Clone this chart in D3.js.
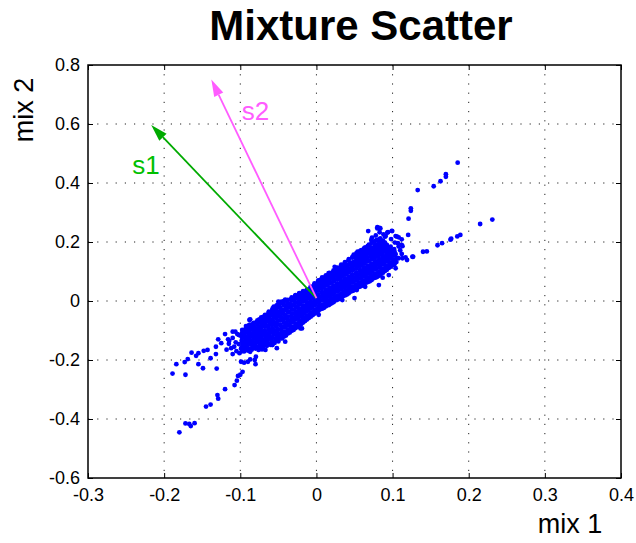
<!DOCTYPE html>
<html>
<head>
  <meta charset="utf-8">
  <title>Mixture Scatter</title>
  <script src="https://d3js.org/d3.v7.min.js"></script>
  <style>
    body { margin: 0; background: #fff; }
    text { font-family: "Liberation Sans", Arial, sans-serif; }
  </style>
</head>
<body>
<div id="chart"></div>
<script>

// Tick values of both axes
const xTicks = [-0.3, -0.2, -0.1, 0, 0.1, 0.2, 0.3, 0.4];
const yTicks = [-0.6, -0.4, -0.2, 0, 0.2, 0.4, 0.6, 0.8];

// Dense middle of the cloud
const core = [
 [-0.101,-0.177],[-0.099,-0.161],[-0.102,-0.146],[-0.098,-0.133],[-0.100,-0.117],[-0.097,-0.105],
 [-0.095,-0.171],[-0.094,-0.156],[-0.096,-0.142],[-0.093,-0.127],[-0.095,-0.112],[-0.094,-0.098],
 [-0.090,-0.168],[-0.091,-0.153],[-0.089,-0.138],[-0.090,-0.125],[-0.088,-0.109],[-0.091,-0.095],[-0.089,-0.083],
 [-0.085,-0.165],[-0.084,-0.148],[-0.086,-0.137],[-0.085,-0.120],[-0.083,-0.108],[-0.086,-0.091],[-0.084,-0.079],
 [-0.080,-0.161],[-0.081,-0.149],[-0.079,-0.132],[-0.080,-0.119],[-0.078,-0.103],[-0.081,-0.090],[-0.079,-0.072],
 [-0.075,-0.158],[-0.074,-0.146],[-0.076,-0.129],[-0.075,-0.117],[-0.073,-0.100],[-0.076,-0.088],[-0.074,-0.072],[-0.075,-0.062],
 [-0.070,-0.157],[-0.069,-0.142],[-0.071,-0.129],[-0.070,-0.113],[-0.068,-0.100],[-0.071,-0.083],[-0.069,-0.070],[-0.070,-0.054],
 [-0.065,-0.152],[-0.064,-0.140],[-0.066,-0.123],[-0.065,-0.111],[-0.063,-0.094],[-0.066,-0.082],[-0.064,-0.065],[-0.065,-0.053],[-0.063,-0.042],
 [-0.060,-0.149],[-0.059,-0.133],[-0.061,-0.121],[-0.060,-0.104],[-0.058,-0.092],[-0.061,-0.076],[-0.059,-0.063],[-0.060,-0.046],[-0.058,-0.034],
 [-0.055,-0.142],[-0.054,-0.129],[-0.056,-0.113],[-0.055,-0.101],[-0.053,-0.085],[-0.056,-0.072],[-0.054,-0.056],[-0.055,-0.044],[-0.053,-0.027],[-0.056,-0.019],
 [-0.050,-0.137],[-0.049,-0.125],[-0.051,-0.109],[-0.050,-0.096],[-0.048,-0.080],[-0.051,-0.067],[-0.049,-0.051],[-0.050,-0.039],[-0.048,-0.023],[-0.051,-0.012],
 [-0.045,-0.127],[-0.044,-0.115],[-0.046,-0.099],[-0.045,-0.087],[-0.043,-0.070],[-0.046,-0.058],[-0.044,-0.042],[-0.045,-0.030],[-0.043,-0.013],[-0.046,-0.002],
 [-0.040,-0.117],[-0.039,-0.105],[-0.041,-0.089],[-0.040,-0.077],[-0.038,-0.061],[-0.041,-0.048],[-0.039,-0.032],[-0.040,-0.020],[-0.038,-0.006],[-0.041,0.005],
 [-0.035,-0.107],[-0.034,-0.095],[-0.036,-0.079],[-0.035,-0.067],[-0.033,-0.051],[-0.036,-0.038],[-0.034,-0.022],[-0.035,-0.010],[-0.033,0.007],
 [-0.030,-0.098],[-0.029,-0.086],[-0.031,-0.070],[-0.030,-0.058],[-0.028,-0.042],[-0.031,-0.029],[-0.029,-0.013],[-0.030,0.001],[-0.028,0.017],
 [-0.025,-0.088],[-0.024,-0.076],[-0.026,-0.060],[-0.025,-0.048],[-0.023,-0.032],[-0.026,-0.019],[-0.024,-0.003],[-0.025,0.011],[-0.023,0.024],
 [-0.020,-0.078],[-0.019,-0.066],[-0.021,-0.050],[-0.020,-0.038],[-0.018,-0.022],[-0.021,-0.010],[-0.019,0.006],[-0.020,0.018],[-0.018,0.030],
 [-0.015,-0.068],[-0.014,-0.056],[-0.016,-0.040],[-0.015,-0.028],[-0.013,-0.012],[-0.016,0.002],[-0.014,0.016],[-0.015,0.027],[-0.013,0.035],
 [-0.010,-0.058],[-0.009,-0.046],[-0.011,-0.030],[-0.010,-0.018],[-0.008,-0.002],[-0.011,0.012],[-0.009,0.026],[-0.010,0.039],
 [-0.005,-0.048],[-0.004,-0.036],[-0.006,-0.020],[-0.005,-0.008],[-0.003,0.008],[-0.006,0.022],[-0.004,0.036],[-0.005,0.047],[-0.003,0.055],
 [0.000,-0.038],[0.001,-0.026],[-0.001,-0.010],[0.000,0.004],[0.002,0.018],[-0.001,0.032],[0.001,0.046],[0.000,0.057],[0.002,0.065],
 [0.005,-0.028],[0.006,-0.016],[0.004,0.000],[0.005,0.014],[0.007,0.028],[0.004,0.042],[0.006,0.056],[0.005,0.067],[0.007,0.075],
 [0.010,-0.023],[0.011,-0.011],[0.009,0.005],[0.010,0.019],[0.012,0.033],[0.009,0.047],[0.011,0.061],[0.010,0.072],[0.012,0.083],
 [0.015,-0.013],[0.016,0.001],[0.014,0.015],[0.015,0.029],[0.017,0.043],[0.014,0.057],[0.016,0.071],[0.015,0.082],[0.017,0.090],
 [0.020,-0.008],[0.021,0.006],[0.019,0.020],[0.020,0.034],[0.022,0.048],[0.019,0.062],[0.021,0.076],[0.020,0.087],[0.022,0.098],
 [0.025,0.002],[0.026,0.016],[0.024,0.030],[0.025,0.044],[0.027,0.058],[0.024,0.072],[0.026,0.086],[0.025,0.097],[0.027,0.108],
 [0.030,0.007],[0.031,0.021],[0.029,0.035],[0.030,0.049],[0.032,0.063],[0.029,0.077],[0.031,0.091],[0.030,0.103],[0.032,0.117],
 [0.035,0.017],[0.036,0.031],[0.034,0.045],[0.035,0.059],[0.037,0.073],[0.034,0.087],[0.036,0.101],[0.035,0.113],[0.037,0.127],
 [0.040,0.022],[0.041,0.036],[0.039,0.050],[0.040,0.064],[0.042,0.078],[0.039,0.092],[0.041,0.106],[0.040,0.118],[0.042,0.137],
 [0.045,0.032],[0.046,0.046],[0.044,0.060],[0.045,0.074],[0.047,0.088],[0.044,0.102],[0.046,0.116],[0.045,0.128],[0.047,0.147],
 [0.050,0.037],[0.051,0.051],[0.049,0.065],[0.050,0.079],[0.052,0.093],[0.049,0.107],[0.051,0.121],[0.050,0.133],[0.052,0.147],[0.049,0.157],
 [0.055,0.047],[0.056,0.061],[0.054,0.075],[0.055,0.089],[0.057,0.103],[0.054,0.117],[0.056,0.131],[0.055,0.143],[0.057,0.157],[0.054,0.167],
 [0.060,0.052],[0.061,0.066],[0.059,0.080],[0.060,0.094],[0.062,0.108],[0.059,0.122],[0.061,0.136],[0.060,0.148],[0.062,0.162],[0.059,0.172],
 [0.065,0.062],[0.066,0.076],[0.064,0.090],[0.065,0.104],[0.067,0.118],[0.064,0.132],[0.066,0.146],[0.065,0.158],[0.067,0.171],[0.064,0.182],
 [0.070,0.067],[0.071,0.081],[0.069,0.095],[0.070,0.109],[0.072,0.123],[0.069,0.137],[0.071,0.151],[0.070,0.163],[0.072,0.177],[0.069,0.191],
 [0.075,0.077],[0.076,0.091],[0.074,0.105],[0.075,0.119],[0.077,0.133],[0.074,0.147],[0.076,0.161],[0.075,0.173],[0.077,0.187],[0.074,0.201],
 [0.080,0.082],[0.081,0.096],[0.079,0.110],[0.080,0.124],[0.082,0.138],[0.079,0.152],[0.081,0.166],[0.080,0.178],[0.082,0.192],[0.079,0.206],
 [0.085,0.092],[0.086,0.106],[0.084,0.120],[0.085,0.134],[0.087,0.148],[0.084,0.162],[0.086,0.176],[0.085,0.188],[0.087,0.202],[0.084,0.212],
 [0.090,0.102],[0.091,0.116],[0.089,0.130],[0.090,0.144],[0.092,0.158],[0.089,0.172],[0.091,0.186],[0.090,0.198],
 [0.095,0.112],[0.096,0.126],[0.094,0.140],[0.095,0.154],[0.097,0.168],[0.094,0.180],
 [0.100,0.122],[0.101,0.136],[0.099,0.150],[0.100,0.162],[0.102,0.176],
 [0.105,0.132],[0.106,0.146],[0.104,0.159]
];

// More points of the dense middle, between the columns above: [x, y, y, ...]
const coreCols = [
 [-0.0975,-0.170,-0.153,-0.139,-0.124,-0.110,-0.098],
 [-0.0925,-0.166,-0.150,-0.136,-0.120,-0.106,-0.091,-0.085],
 [-0.0875,-0.162,-0.146,-0.131,-0.117,-0.101,-0.087,-0.080],
 [-0.0825,-0.159,-0.142,-0.128,-0.112,-0.097,-0.083,-0.074],
 [-0.0775,-0.156,-0.139,-0.124,-0.109,-0.094,-0.080,-0.066],
 [-0.0725,-0.152,-0.136,-0.121,-0.106,-0.091,-0.076,-0.062,-0.056],
 [-0.0675,-0.149,-0.133,-0.117,-0.103,-0.087,-0.073,-0.059,-0.047],
 [-0.0625,-0.145,-0.128,-0.113,-0.098,-0.084,-0.069,-0.055,-0.040,-0.036],
 [-0.0575,-0.140,-0.124,-0.108,-0.094,-0.079,-0.064,-0.050,-0.036,-0.025],
 [-0.0525,-0.134,-0.118,-0.103,-0.088,-0.074,-0.059,-0.045,-0.031,-0.016],
 [-0.0475,-0.127,-0.111,-0.096,-0.081,-0.066,-0.052,-0.037,-0.022,-0.008],
 [-0.0425,-0.120,-0.104,-0.089,-0.074,-0.059,-0.045,-0.030,-0.015,0.000],
 [-0.0375,-0.110,-0.096,-0.081,-0.066,-0.052,-0.037,-0.022,-0.008,0.004],
 [-0.0325,-0.101,-0.087,-0.072,-0.058,-0.043,-0.029,-0.014,0.001,0.012],
 [-0.0275,-0.092,-0.077,-0.063,-0.049,-0.034,-0.020,-0.005,0.009,0.020],
 [-0.0225,-0.082,-0.068,-0.054,-0.039,-0.025,-0.011,0.003,0.016,0.027],
 [-0.0175,-0.073,-0.058,-0.044,-0.030,-0.016,-0.002,0.012,0.025,0.033],
 [-0.0125,-0.063,-0.049,-0.035,-0.021,-0.007,0.007,0.021,0.033,0.038],
 [-0.0075,-0.053,-0.039,-0.025,-0.011,0.003,0.017,0.031,0.043,0.049],
 [-0.0025,-0.043,-0.029,-0.015,-0.001,0.013,0.027,0.041,0.053,0.060],
 [0.0025,-0.034,-0.020,-0.006,0.008,0.022,0.036,0.050,0.062,0.070],
 [0.0075,-0.026,-0.012,0.002,0.016,0.030,0.044,0.058,0.070,0.080],
 [0.0125,-0.018,-0.004,0.010,0.024,0.038,0.052,0.066,0.078,0.087],
 [0.0175,-0.011,0.003,0.017,0.031,0.045,0.059,0.073,0.085,0.095],
 [0.0225,-0.004,0.010,0.024,0.038,0.052,0.066,0.080,0.092,0.104],
 [0.0275,0.004,0.018,0.032,0.046,0.060,0.074,0.088,0.100,0.113],
 [0.0325,0.011,0.025,0.039,0.053,0.067,0.081,0.095,0.108,0.123],
 [0.0375,0.019,0.033,0.047,0.061,0.075,0.089,0.103,0.116,0.132],
 [0.0425,0.026,0.040,0.054,0.068,0.082,0.096,0.110,0.124,0.142],
 [0.0475,0.034,0.048,0.062,0.076,0.090,0.104,0.118,0.131,0.150],
 [0.0525,0.041,0.055,0.069,0.083,0.097,0.111,0.125,0.139,0.152,0.162],
 [0.0575,0.049,0.063,0.077,0.091,0.105,0.119,0.133,0.146,0.160,0.170],
 [0.0625,0.056,0.070,0.084,0.098,0.112,0.126,0.140,0.153,0.167,0.178],
 [0.0675,0.064,0.078,0.092,0.106,0.120,0.134,0.148,0.161,0.175,0.187],
 [0.0725,0.071,0.085,0.099,0.113,0.127,0.141,0.155,0.168,0.182,0.197],
 [0.0775,0.079,0.093,0.107,0.121,0.135,0.149,0.163,0.176,0.190,0.204],
 [0.0825,0.086,0.100,0.114,0.128,0.142,0.156,0.170,0.183,0.197,0.210],
 [0.0875,0.096,0.110,0.124,0.138,0.152,0.166,0.180,0.193,0.205],
 [0.0925,0.106,0.120,0.134,0.148,0.162,0.176,0.190],
 [0.0975,0.116,0.130,0.144,0.158,0.172,0.184],
 [0.1025,0.126,0.140,0.154,0.168]
];

// Loose points around the cloud and along the two arms
const sparse = [
 // upper arm
 [0.1855,0.469],[0.170,0.430],[0.170,0.421],[0.163,0.406],[0.154,0.389],[0.133,0.376],
 [0.124,0.314],[0.124,0.306],[0.121,0.279],[0.1205,0.224],
 // lower arm
 [0.231,0.276],[0.215,0.261],[0.189,0.224],[0.185,0.219],[0.177,0.211],[0.176,0.208],
 [0.165,0.196],[0.159,0.189],[0.145,0.168],[0.140,0.167],[0.127,0.150],[0.117,0.148],[0.119,0.139],
 // top of the cloud
 [0.068,0.237],[0.080,0.246],[0.083,0.248],[0.0995,0.237],[0.094,0.233],[0.083,0.233],
 [0.090,0.218],[0.104,0.220],[0.108,0.216],[0.112,0.209],[0.107,0.196],[0.113,0.186],
 [0.092,0.180],[0.072,0.207],[0.108,0.145],[0.092,0.139],[0.102,0.128],[0.087,0.079],
 [0.080,0.250],[0.084,0.246],[0.099,0.238],[0.091,0.220],[0.106,0.218],[0.112,0.190],
 [0.097,0.167],[0.091,0.150],[0.113,0.145],[0.126,0.150],[0.102,0.122],[0.104,0.111],[0.095,0.088],
 [0.088,0.226],[0.093,0.232],[0.098,0.210],[0.078,0.222],[0.073,0.215],[0.103,0.198],
 [0.108,0.185],[0.110,0.172],[0.112,0.160],
 [0.024,0.116],[0.005,0.071],[0.016,0.094],[-0.050,-0.002],[-0.058,-0.031],[-0.087,-0.062],
 [-0.1065,-0.104],[-0.050,-0.014],
 // bottom edge of the cloud
 [0.053,0.037],[0.034,0.003],[0.016,-0.014],[0.003,-0.047],[-0.017,-0.064],[-0.021,-0.093],
 [-0.034,-0.087],[-0.050,-0.115],[-0.058,-0.149],[-0.072,-0.155],[0.050,0.010],[0.064,0.048],
 [0.082,0.054],[-0.019,-0.093],
 [-0.105,-0.170],[-0.108,-0.155],[-0.106,-0.140],[-0.110,-0.125],[-0.104,-0.112],
 [-0.112,-0.160],[-0.115,-0.145],[-0.118,-0.165],
 // lower left tail
 [-0.189,-0.246],[-0.184,-0.214],[-0.172,-0.250],[-0.173,-0.207],[-0.169,-0.197],[-0.164,-0.175],
 [-0.158,-0.186],[-0.155,-0.177],[-0.155,-0.214],[-0.149,-0.228],[-0.148,-0.169],[-0.143,-0.166],
 [-0.139,-0.194],[-0.132,-0.180],[-0.131,-0.229],[-0.132,-0.155],[-0.129,-0.130],[-0.125,-0.143],
 [-0.120,-0.112],[-0.120,-0.299],[-0.130,-0.319],[-0.129,-0.331],[-0.139,-0.351],[-0.145,-0.358],
 [-0.160,-0.414],[-0.167,-0.417],[-0.165,-0.424],[-0.172,-0.415],[-0.180,-0.445],[-0.110,-0.180],
 [-0.1075,-0.285],[-0.1045,-0.270],[-0.103,-0.254],[-0.100,-0.250],[-0.097,-0.240],[-0.099,-0.206],
 [-0.095,-0.209],[-0.090,-0.206],[-0.087,-0.198],[-0.080,-0.214],[-0.081,-0.200],[-0.0795,-0.189],
 [-0.087,-0.172],[-0.093,-0.166],[-0.098,-0.160],[-0.096,-0.155],[-0.085,-0.160],[-0.076,-0.166],
 [-0.0715,-0.164],[-0.067,-0.166],[-0.116,-0.130],[-0.1145,-0.135],[-0.110,-0.104],[-0.102,-0.115],
 [-0.095,-0.119],[-0.0925,-0.146],[-0.088,-0.064],[-0.089,-0.110],[-0.077,-0.130],[-0.078,-0.141],
 [-0.058,-0.149],[-0.052,-0.160],[-0.041,-0.138],[-0.066,-0.132],[-0.063,-0.110]
];

// Direction arrows drawn from the centre of the cloud
const arrowNames = ["s1", "s2"];
const arrowOrigin = [0, 0.01];
const arrowTips = [[-0.217, 0.597], [-0.138, 0.751]];
const arrowLabelAt = [[-0.242, 0.43], [-0.098, 0.613]];
const arrowColors = ["#00aa00", "#ff5cff"];
const labelColors = ["#00c000", "#ff5cff"];

// Setting the dimensions and margins of the chart
const W = 636, H = 543;
const margin = {top: 65, right: 15, bottom: 65, left: 88},
    width = W - margin.left - margin.right,
    height = H - margin.top - margin.bottom;

const svg = d3.select("#chart")
  .append("svg")
    .attr("width", W)
    .attr("height", H)
  .append("g")
    .attr("transform", `translate(${margin.left},${margin.top})`);

// Scales
const x = d3.scaleLinear().domain([-0.3, 0.4]).range([0, width]);
const y = d3.scaleLinear().domain([-0.6, 0.8]).range([height, 0]);

// Dotted grid
svg.append("g")
  .selectAll("line")
  .data(xTicks.slice(1, -1))
  .join("line")
    .attr("x1", d => x(d)).attr("x2", d => x(d))
    .attr("y1", 0).attr("y2", height)
    .attr("stroke", "#222")
    .attr("stroke-dasharray", "1.2,8");

svg.append("g")
  .selectAll("line")
  .data(yTicks.slice(1, -1))
  .join("line")
    .attr("y1", d => y(d)).attr("y2", d => y(d))
    .attr("x1", 0).attr("x2", width)
    .attr("stroke", "#222")
    .attr("stroke-dasharray", "1.2,8");

// Scatter points
const colPoints = coreCols.flatMap(c => c.slice(1).map(v => [c[0], v]));
svg.append("g")
  .selectAll("circle")
  .data(core.concat(colPoints, sparse))
  .join("circle")
    .attr("cx", d => x(d[0]))
    .attr("cy", d => y(d[1]))
    .attr("r", 2.4)
    .attr("fill", "#0000ff");

// Arrows with filled heads
arrowNames.forEach(function(name, i) {
  const x0 = x(arrowOrigin[0]), y0 = y(arrowOrigin[1]);
  const x1 = x(arrowTips[i][0]), y1 = y(arrowTips[i][1]);
  const a = Math.atan2(y1 - y0, x1 - x0);
  const len = 17, half = 5;
  const bx = x1 - len * Math.cos(a), by = y1 - len * Math.sin(a);

  svg.append("line")
    .attr("x1", x0).attr("y1", y0)
    .attr("x2", bx).attr("y2", by)
    .attr("stroke", arrowColors[i])
    .attr("stroke-width", 1.8);

  svg.append("path")
    .attr("d", `M${x1},${y1}L${bx + half * Math.sin(a)},${by - half * Math.cos(a)}L${bx - half * Math.sin(a)},${by + half * Math.cos(a)}Z`)
    .attr("fill", arrowColors[i]);

  svg.append("text")
    .attr("x", x(arrowLabelAt[i][0]))
    .attr("y", y(arrowLabelAt[i][1]))
    .attr("font-size", 26)
    .attr("fill", labelColors[i])
    .text(name);
});

// Axes: ticks pointing inwards on all four sides
const tickLen = 5;
svg.append("g")
  .attr("transform", `translate(0,${height})`)
  .call(d3.axisBottom(x).tickValues(xTicks).tickSize(-tickLen).tickPadding(10).tickFormat(d => String(d)))
  .call(g => g.select(".domain").remove())
  .call(g => g.selectAll("text").attr("font-size", 18).attr("fill", "#000"));

svg.append("g")
  .call(d3.axisTop(x).tickValues(xTicks).tickSize(-tickLen).tickFormat(""))
  .call(g => g.select(".domain").remove());

svg.append("g")
  .call(d3.axisLeft(y).tickValues(yTicks).tickSize(-tickLen).tickPadding(8).tickFormat(d => String(d)))
  .call(g => g.select(".domain").remove())
  .call(g => g.selectAll("text").attr("font-size", 18).attr("fill", "#000"));

svg.append("g")
  .attr("transform", `translate(${width},0)`)
  .call(d3.axisRight(y).tickValues(yTicks).tickSize(-tickLen).tickFormat(""))
  .call(g => g.select(".domain").remove());

// Box around the plot
svg.append("rect")
  .attr("width", width).attr("height", height)
  .attr("fill", "none")
  .attr("stroke", "#000")
  .attr("stroke-width", 1.5);

// Title and axis labels
svg.append("text")
  .attr("x", 273).attr("y", -25)
  .attr("text-anchor", "middle")
  .attr("font-size", 42)
  .attr("font-weight", "bold")
  .text("Mixture Scatter");

svg.append("text")
  .attr("x", 482).attr("y", height + 55)
  .attr("text-anchor", "middle")
  .attr("font-size", 27)
  .text("mix 1");

svg.append("text")
  .attr("transform", "rotate(-90)")
  .attr("x", -45).attr("y", -55)
  .attr("text-anchor", "middle")
  .attr("font-size", 27)
  .text("mix 2");

</script>
</body>
</html>
